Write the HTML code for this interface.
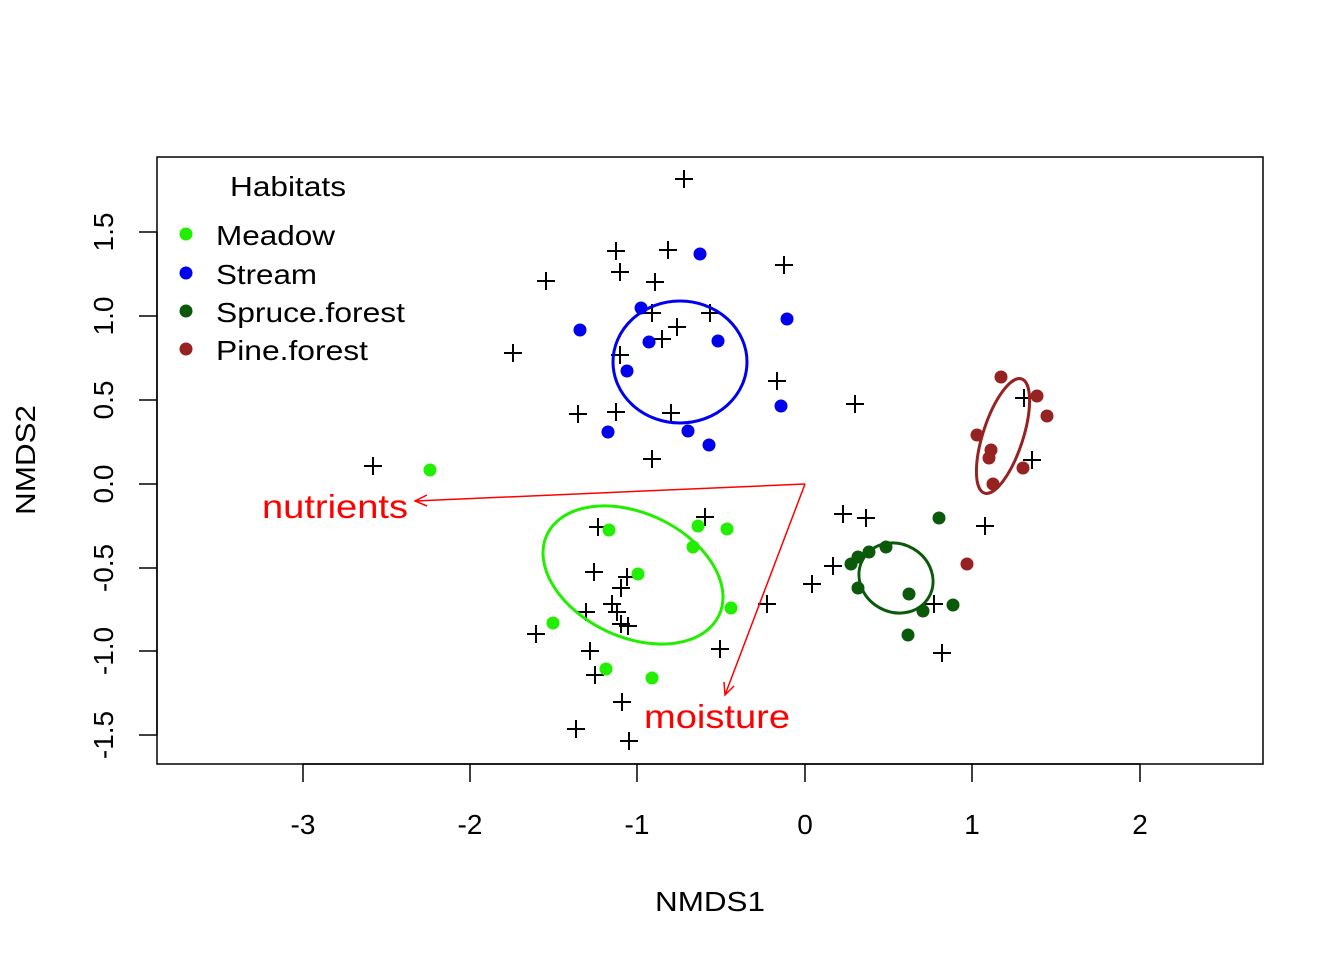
<!DOCTYPE html><html><head><style>body{margin:0;background:#fff}</style></head><body>
<svg width="1344" height="960" xmlns="http://www.w3.org/2000/svg" font-family="Liberation Sans, sans-serif">
<rect width="1344" height="960" fill="#fff"/>
<rect x="157" y="157" width="1106" height="607" fill="none" stroke="#000" stroke-width="1.5"/>
<g stroke="#000" stroke-width="1.5">
<line x1="303" y1="764" x2="1140" y2="764"/>
<line x1="303" y1="764" x2="303" y2="782"/><line x1="470" y1="764" x2="470" y2="782"/><line x1="637" y1="764" x2="637" y2="782"/><line x1="805" y1="764" x2="805" y2="782"/><line x1="972" y1="764" x2="972" y2="782"/><line x1="1140" y1="764" x2="1140" y2="782"/>
<line x1="157" y1="232" x2="157" y2="735"/>
<line x1="139" y1="232" x2="157" y2="232"/><line x1="139" y1="316" x2="157" y2="316"/><line x1="139" y1="400" x2="157" y2="400"/><line x1="139" y1="484" x2="157" y2="484"/><line x1="139" y1="568" x2="157" y2="568"/><line x1="139" y1="651" x2="157" y2="651"/><line x1="139" y1="735" x2="157" y2="735"/>
</g>
<g font-size="28" text-anchor="middle">
<text x="303" y="834">-3</text><text x="470" y="834">-2</text><text x="637" y="834">-1</text><text x="805" y="834">0</text><text x="972" y="834">1</text><text x="1140" y="834">2</text>
<text x="710" y="911" textLength="110" lengthAdjust="spacingAndGlyphs">NMDS1</text>
</g>
<g font-size="28" text-anchor="middle">
<text transform="translate(113,232) rotate(-90)">1.5</text><text transform="translate(113,316) rotate(-90)">1.0</text><text transform="translate(113,400) rotate(-90)">0.5</text><text transform="translate(113,484) rotate(-90)">0.0</text><text transform="translate(113,568) rotate(-90)">-0.5</text><text transform="translate(113,651) rotate(-90)">-1.0</text><text transform="translate(113,735) rotate(-90)">-1.5</text>
<text transform="translate(35,460) rotate(-90)" textLength="110" lengthAdjust="spacingAndGlyphs">NMDS2</text>
</g>
<g stroke="#000" stroke-width="2" fill="none">
<path d="M675 179h18M684 170v18M607 251h18M616 242v18M659 250h18M668 241v18M775 265h18M784 256v18M611 272h18M620 263v18M537 281h18M546 272v18M646 282h18M655 273v18M643 313h18M652 304v18M701 313h18M710 304v18M668 327h18M677 318v18M653 339h18M662 330v18M504 353h18M513 344v18M611 355h18M620 346v18M768 381h18M777 372v18M569 414h18M578 405v18M607 412h18M616 403v18M662 413h18M671 404v18M846 404h18M855 395v18M643 459h18M652 450v18M364 466h18M373 457v18M1015 398h18M1024 389v18M1023 460h18M1032 451v18M589 527h18M598 518v18M696 517h18M705 508v18M834 514h18M843 505v18M857 518h18M866 509v18M976 526h18M985 517v18M585 572h18M594 563v18M618 577h18M627 568v18M612 588h18M621 579v18M824 566h18M833 557v18M803 584h18M812 575v18M603 604h18M612 595v18M577 612h18M586 603v18M608 612h18M617 603v18M612 624h18M621 615v18M619 626h18M628 617v18M758 604h18M767 595v18M925 604h18M934 595v18M527 634h18M536 625v18M581 651h18M590 642v18M711 649h18M720 640v18M933 653h18M942 644v18M586 675h18M595 666v18M613 702h18M622 693v18M567 729h18M576 720v18M620 741h18M629 732v18"/>
</g>
<g fill="#22ee00">
<circle cx="430" cy="470" r="6.5"/><circle cx="609" cy="530" r="6.5"/><circle cx="698" cy="526" r="6.5"/><circle cx="727" cy="529" r="6.5"/><circle cx="693" cy="547" r="6.5"/><circle cx="638" cy="574" r="6.5"/><circle cx="731" cy="608" r="6.5"/><circle cx="553" cy="623" r="6.5"/><circle cx="606" cy="669" r="6.5"/><circle cx="652" cy="678" r="6.5"/>
</g>
<g fill="#0000ee">
<circle cx="700" cy="254" r="6.5"/><circle cx="641" cy="308" r="6.5"/><circle cx="580" cy="330" r="6.5"/><circle cx="787" cy="319" r="6.5"/><circle cx="649" cy="342" r="6.5"/><circle cx="718" cy="341" r="6.5"/><circle cx="627" cy="371" r="6.5"/><circle cx="781" cy="406" r="6.5"/><circle cx="608" cy="432" r="6.5"/><circle cx="688" cy="431" r="6.5"/><circle cx="709" cy="445" r="6.5"/>
</g>
<g fill="#0b5a0b">
<circle cx="939" cy="518" r="6.5"/><circle cx="858" cy="557" r="6.5"/><circle cx="851" cy="564" r="6.5"/><circle cx="869" cy="552" r="6.5"/><circle cx="886" cy="547" r="6.5"/><circle cx="858" cy="588" r="6.5"/><circle cx="909" cy="594" r="6.5"/><circle cx="953" cy="605" r="6.5"/><circle cx="923" cy="611" r="6.5"/><circle cx="908" cy="635" r="6.5"/>
</g>
<g fill="#962222">
<circle cx="1001" cy="377" r="6.5"/><circle cx="1037" cy="396" r="6.5"/><circle cx="1047" cy="416" r="6.5"/><circle cx="977" cy="435" r="6.5"/><circle cx="991" cy="450" r="6.5"/><circle cx="989" cy="458" r="6.5"/><circle cx="1023" cy="468" r="6.5"/><circle cx="993" cy="484" r="6.5"/><circle cx="967" cy="564" r="6.5"/>
</g>
<g fill="none" stroke-width="3">
<ellipse cx="680" cy="362" rx="67" ry="61" stroke="#0000ee"/>
<ellipse cx="633" cy="575" rx="95" ry="62" transform="rotate(25 633 575)" stroke="#22ee00"/>
<ellipse cx="896" cy="578" rx="38" ry="34" transform="rotate(30 896 578)" stroke="#0b5a0b"/>
<ellipse cx="1003" cy="436" rx="20" ry="60" transform="rotate(18 1003 436)" stroke="#962222"/>
</g>
<g stroke="#ff0000" stroke-width="1.5" fill="none">
<path d="M805 484L415 501M427 495L415 501L427 506"/>
<path d="M805 484L725 695M724 682L725 695L734 686"/>
</g>
<g fill="#ff0000" font-size="33">
<text x="262" y="518" textLength="146" lengthAdjust="spacingAndGlyphs">nutrients</text><text x="644" y="728" textLength="146" lengthAdjust="spacingAndGlyphs">moisture</text>
</g>
<g font-size="28">
<text x="230" y="196" textLength="116" lengthAdjust="spacingAndGlyphs">Habitats</text>
<circle cx="186" cy="234" r="6.5" fill="#22ee00"/><text x="216" y="245" textLength="119" lengthAdjust="spacingAndGlyphs">Meadow</text>
<circle cx="186" cy="273" r="6.5" fill="#0000ee"/><text x="216" y="284" textLength="101" lengthAdjust="spacingAndGlyphs">Stream</text>
<circle cx="186" cy="311" r="6.5" fill="#0b5a0b"/><text x="216" y="322" textLength="189" lengthAdjust="spacingAndGlyphs">Spruce.forest</text>
<circle cx="186" cy="349" r="6.5" fill="#962222"/><text x="216" y="360" textLength="152" lengthAdjust="spacingAndGlyphs">Pine.forest</text>
</g>
</svg>
</body></html>
